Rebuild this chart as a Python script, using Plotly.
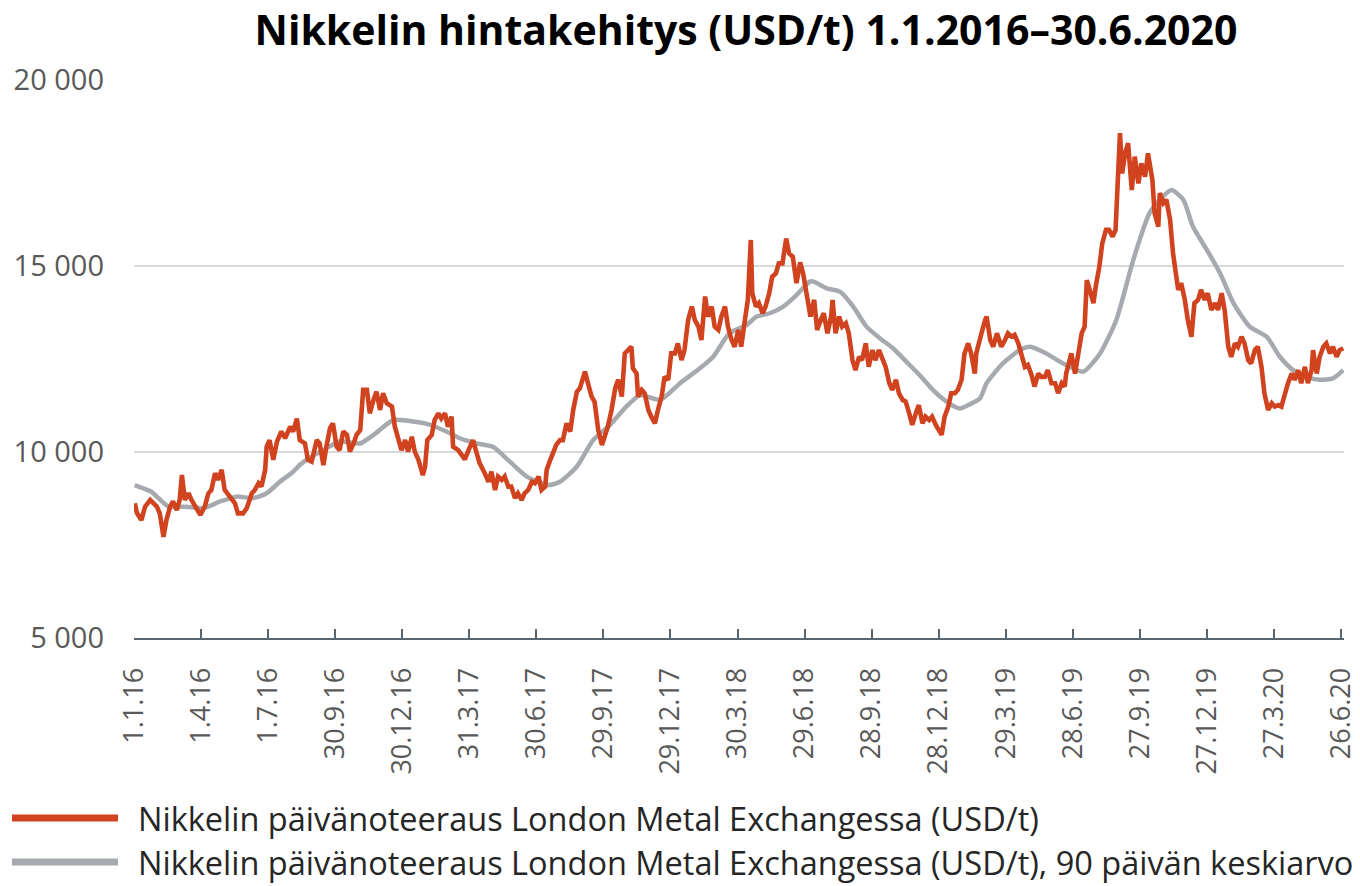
import pandas as pd
import plotly.graph_objects as go

# ---- data ----
# days since 1.1.2016, daily LME nickel price (USD/t)
price_days = [1, 4, 10, 15, 22, 26, 31, 35, 40, 44, 49, 53, 58, 62, 65, 69, 74, 78, 83, 90,
              96, 101, 105, 110, 114, 119, 123, 130, 137, 141, 148, 153, 160, 164, 169, 173, 178, 180, 184, 189,
              194, 200, 205, 212, 216, 221, 225, 232, 236, 241, 248, 252, 257, 261, 266, 270, 275, 279, 284, 289,
              293, 298, 302, 307, 311, 316, 320, 325, 329, 334, 338, 343, 350, 354, 359, 363, 368, 372, 377, 381,
              386, 392, 395, 398, 404, 408, 413, 417, 422, 426, 431, 433, 440, 445, 449, 454, 460, 465, 469, 476,
              481, 485, 490, 494, 499, 503, 508, 512, 517, 521, 526, 530, 535, 540, 544, 549, 553, 558, 560, 564,
              569, 573, 578, 582, 587, 592, 596, 601, 605, 610, 612, 616, 621, 625, 630, 635, 639, 643, 648, 653,
              657, 662, 666, 671, 675, 677, 682, 684, 689, 693, 698, 702, 707, 711, 716, 720, 725, 729, 734, 738,
              743, 747, 752, 757, 761, 766, 770, 775, 779, 784, 788, 793, 797, 802, 806, 811, 815, 820, 824, 829,
              833, 837, 839, 844, 848, 853, 857, 862, 866, 871, 875, 880, 885, 889, 894, 899, 904, 908, 913, 918,
              923, 927, 932, 936, 941, 946, 948, 952, 957, 961, 966, 970, 975, 979, 984, 988, 993, 997, 1002, 1006,
              1011, 1016, 1020, 1025, 1029, 1034, 1038, 1043, 1047, 1052, 1056, 1061, 1065, 1070, 1074, 1079, 1083, 1088, 1096, 1100,
              1105, 1109, 1114, 1118, 1123, 1127, 1132, 1136, 1141, 1143, 1146, 1150, 1155, 1157, 1162, 1166, 1171, 1177, 1182, 1186,
              1191, 1195, 1200, 1204, 1209, 1213, 1218, 1222, 1227, 1231, 1236, 1240, 1245, 1250, 1254, 1259, 1263, 1265, 1272, 1277,
              1281, 1286, 1290, 1293, 1297, 1302, 1305, 1310, 1314, 1319, 1323, 1328, 1332, 1335, 1338, 1341, 1345, 1349, 1354, 1358,
              1363, 1367, 1372, 1376, 1382, 1385, 1390, 1392, 1397, 1401, 1406, 1410, 1415, 1417, 1421, 1426, 1430, 1435, 1439, 1444,
              1448, 1453, 1457, 1462, 1467, 1471, 1476, 1480, 1485, 1489, 1494, 1498, 1503, 1507, 1512, 1516, 1521, 1525, 1530, 1534,
              1539, 1544, 1548, 1553, 1557, 1562, 1566, 1571, 1575, 1580, 1584, 1589, 1593, 1598, 1600, 1605, 1609, 1614, 1618, 1623,
              1627, 1632, 1636, 1641]
price_usd = [8620, 8360, 8170, 8530, 8710, 8620, 8530, 8350, 7720, 8170, 8530, 8670, 8440, 8710, 9380, 8710, 8890, 8710, 8530, 8310,
             8530, 8890, 8980, 9430, 9250, 9520, 8980, 8800, 8620, 8350, 8350, 8490, 8890, 8980, 9160, 9070, 9520, 10140, 10320, 9790,
             10280, 10550, 10370, 10680, 10550, 10900, 10320, 10230, 9790, 9740, 10320, 10230, 9650, 10140, 10640, 10770, 10140, 10050, 10550, 10460,
             10010, 10230, 10460, 10590, 11670, 11670, 11040, 11400, 11620, 11130, 11580, 11310, 11220, 10680, 10320, 10050, 10320, 10010, 10410, 10010,
             9790, 9380, 9610, 10320, 10460, 10860, 11040, 10900, 11040, 10680, 10950, 10140, 10050, 9920, 9800, 10050, 10320, 9970, 9700, 9430,
             9200, 9470, 8980, 9340, 9250, 9340, 9070, 9070, 8760, 8890, 8710, 8890, 8980, 9200, 9160, 9340, 8980, 9070, 9520, 9740,
             9970, 10190, 10320, 10320, 10770, 10550, 11130, 11620, 11710, 12110, 12160, 11850, 11490, 11350, 10590, 10190, 10410, 10680, 11130, 11710,
             11940, 11490, 12650, 12740, 12830, 12250, 12110, 11490, 11670, 11580, 11130, 10950, 10770, 11130, 11490, 12020, 11940, 12650, 12650, 12920,
             12470, 12740, 13550, 13910, 13550, 13370, 13010, 14180, 13640, 13910, 13370, 13280, 13640, 13910, 13370, 13010, 12830, 13280, 12830, 13550,
             14090, 15700, 14270, 13910, 14000, 13730, 13910, 14270, 14710, 14800, 15070, 15070, 15740, 15340, 15250, 14540, 15100, 14800, 14200, 13640,
             14090, 13280, 13550, 13730, 13190, 13640, 14090, 13190, 13640, 13370, 13460, 13190, 12470, 12200, 12560, 12470, 12920, 12290, 12740, 12470,
             12740, 12470, 12290, 11850, 11670, 11940, 11580, 11400, 11360, 11040, 10730, 11040, 11260, 10770, 10950, 10860, 10950, 10730, 10460, 10950,
             11220, 11580, 11580, 11670, 11940, 12650, 12920, 12650, 12110, 12650, 12920, 13190, 13550, 13640, 13010, 12830, 13190, 12830, 13010, 13190,
             13100, 13150, 12920, 12650, 12290, 12340, 12070, 11760, 12110, 12020, 12020, 12200, 11850, 11850, 11580, 11850, 11760, 12110, 12650, 12110,
             12560, 13190, 13370, 14620, 14360, 14000, 14440, 14980, 15610, 15970, 15970, 15790, 15970, 17130, 18570, 17490, 18030, 18300, 17040, 17940,
             17220, 17760, 17400, 18030, 17310, 16420, 16060, 16960, 16690, 16780, 16240, 15340, 14620, 14360, 14540, 14090, 13550, 13100, 14000, 14090,
             14360, 14090, 14270, 13820, 14000, 13820, 14270, 13820, 12830, 12560, 12920, 12830, 13100, 12920, 12470, 12380, 12740, 12830, 12290, 11580,
             11130, 11310, 11220, 11260, 11220, 11580, 11850, 12110, 11940, 12200, 11850, 12290, 11850, 12200, 12740, 12110, 12560, 12830, 12920, 12650,
             12830, 12560, 12740, 12790]

# 90-day average (USD/t)
avg_days = [1, 13, 24, 31, 47, 71, 94, 117, 139, 162, 180, 198, 216, 225, 234, 257, 279, 307, 325, 352,
            379, 402, 424, 442, 456, 465, 487, 510, 533, 562, 578, 601, 623, 646, 668, 687, 714, 741, 768, 786,
            808, 831, 845, 863, 881, 899, 917, 922, 940, 958, 976, 994, 1012, 1030, 1048, 1066, 1084, 1103, 1121, 1134,
            1148, 1157, 1179, 1202, 1216, 1238, 1261, 1288, 1311, 1333, 1356, 1378, 1392, 1408, 1424, 1437, 1456, 1474, 1492, 1514,
            1537, 1555, 1573, 1591, 1609, 1627, 1641]
avg_usd = [9110, 9020, 8930, 8800, 8530, 8530, 8490, 8670, 8800, 8760, 8890, 9200, 9470, 9650, 9790, 10050, 10280, 10230, 10460, 10860,
           10820, 10730, 10550, 10370, 10280, 10230, 10140, 9740, 9340, 9110, 9200, 9610, 10320, 10730, 11220, 11530, 11400, 11850, 12250, 12560,
           13190, 13410, 13640, 13730, 13910, 14220, 14580, 14580, 14400, 14310, 13910, 13370, 13060, 12790, 12430, 12070, 11670, 11350, 11170, 11280,
           11440, 11850, 12380, 12740, 12830, 12650, 12380, 12160, 12650, 13550, 15160, 16420, 16780, 17040, 16780, 16060, 15430, 14800, 14000, 13370,
           13100, 12560, 12200, 12020, 11940, 11980, 12200]

x_tick_labels = ["1.1.16", "1.4.16", "1.7.16", "30.9.16", "30.12.16", "31.3.17", "30.6.17", "29.9.17",
                 "29.12.17", "30.3.18", "29.6.18", "28.9.18", "28.12.18", "29.3.19", "28.6.19", "27.9.19",
                 "27.12.19", "27.3.20", "26.6.20"]
y_tick_values = [5000, 10000, 15000, 20000]
y_tick_labels = ["5 000", "10 000", "15 000", "20 000"]

title_text = "Nikkelin hintakehitys (USD/t) 1.1.2016–30.6.2020"
series_names = ["Nikkelin päivänoteeraus London Metal Exchangessa (USD/t)",
                "Nikkelin päivänoteeraus London Metal Exchangessa (USD/t), 90 päivän keskiarvo"]

# ---- build ----
start = pd.Timestamp("2016-01-01")
price_dates = start + pd.to_timedelta(price_days, unit="D")
avg_dates = start + pd.to_timedelta(avg_days, unit="D")
tick_dates = pd.to_datetime(x_tick_labels, format="%d.%m.%y")

W, H = 1360, 886
ML, MR, MT, MB = 134, 16, 80, 248
PW, PH = W - ML - MR, H - MT - MB

RED = "#D1431F"
GRAY = "#A6AAAE"
TXT = "#595959"
FONT = "Open Sans, Noto Sans, sans-serif"

fig = go.Figure()
fig.add_trace(go.Scatter(x=avg_dates, y=avg_usd, mode="lines", name=series_names[1],
                         line=dict(color=GRAY, width=4.5, shape="spline", smoothing=0.6),
                         showlegend=False, hoverinfo="skip"))
fig.add_trace(go.Scatter(x=price_dates, y=price_usd, mode="lines", name=series_names[0],
                         line=dict(color=RED, width=4.6), showlegend=False))


def px_x(px):
    return (px - ML) / PW


def px_y(py):
    return (H - MB - py) / PH


# manual legend (long line samples like the reference)
legend_rows = [(series_names[0], RED, 818), (series_names[1], GRAY, 862)]
for name, col, ypx in legend_rows:
    yp = px_y(ypx)
    fig.add_shape(type="line", xref="paper", yref="paper",
                  x0=px_x(12), x1=px_x(118), y0=yp, y1=yp,
                  line=dict(color=col, width=7))
    fig.add_annotation(xref="paper", yref="paper", x=px_x(136), y=yp,
                       text=name, showarrow=False, xanchor="left", yanchor="middle",
                       font=dict(family=FONT, size=32.5, color="#262626"))

fig.update_layout(
    width=W, height=H,
    margin=dict(l=ML, r=MR, t=MT, b=MB, autoexpand=False),
    plot_bgcolor="white", paper_bgcolor="white",
    title=dict(text="<b>" + title_text + "</b>", x=746 / W, xanchor="center",
               y=1 - 31 / H, yanchor="middle", xref="container", yref="container",
               font=dict(family="Open Sans, sans-serif", size=41, color="black")),
    showlegend=False,
)
fig.update_xaxes(
    type="date", automargin=False,
    range=[start, start + pd.Timedelta(days=1642)],
    tickvals=tick_dates, ticktext=x_tick_labels, tickangle=-90,
    tickfont=dict(family=FONT, size=27, color=TXT),
    showgrid=False, showline=True, linecolor="#5B6770", linewidth=2,
    ticks="inside", ticklen=9, tickwidth=2, tickcolor="#5B6770",
    ticklabelstandoff=17, zeroline=False,
)
fig.update_yaxes(
    automargin=False,
    range=[5000, 20000], tickvals=y_tick_values, ticktext=y_tick_labels,
    tickfont=dict(family=FONT, size=29, color=TXT),
    showgrid=True, gridcolor="#D9D9D9", gridwidth=2,
    showline=False, zeroline=False, ticks="", ticklabelstandoff=29,
)

fig.write_html("out.html", config={"displayModeBar": False},
               post_script="document.body.style.margin='0';document.body.style.overflow='hidden';")
